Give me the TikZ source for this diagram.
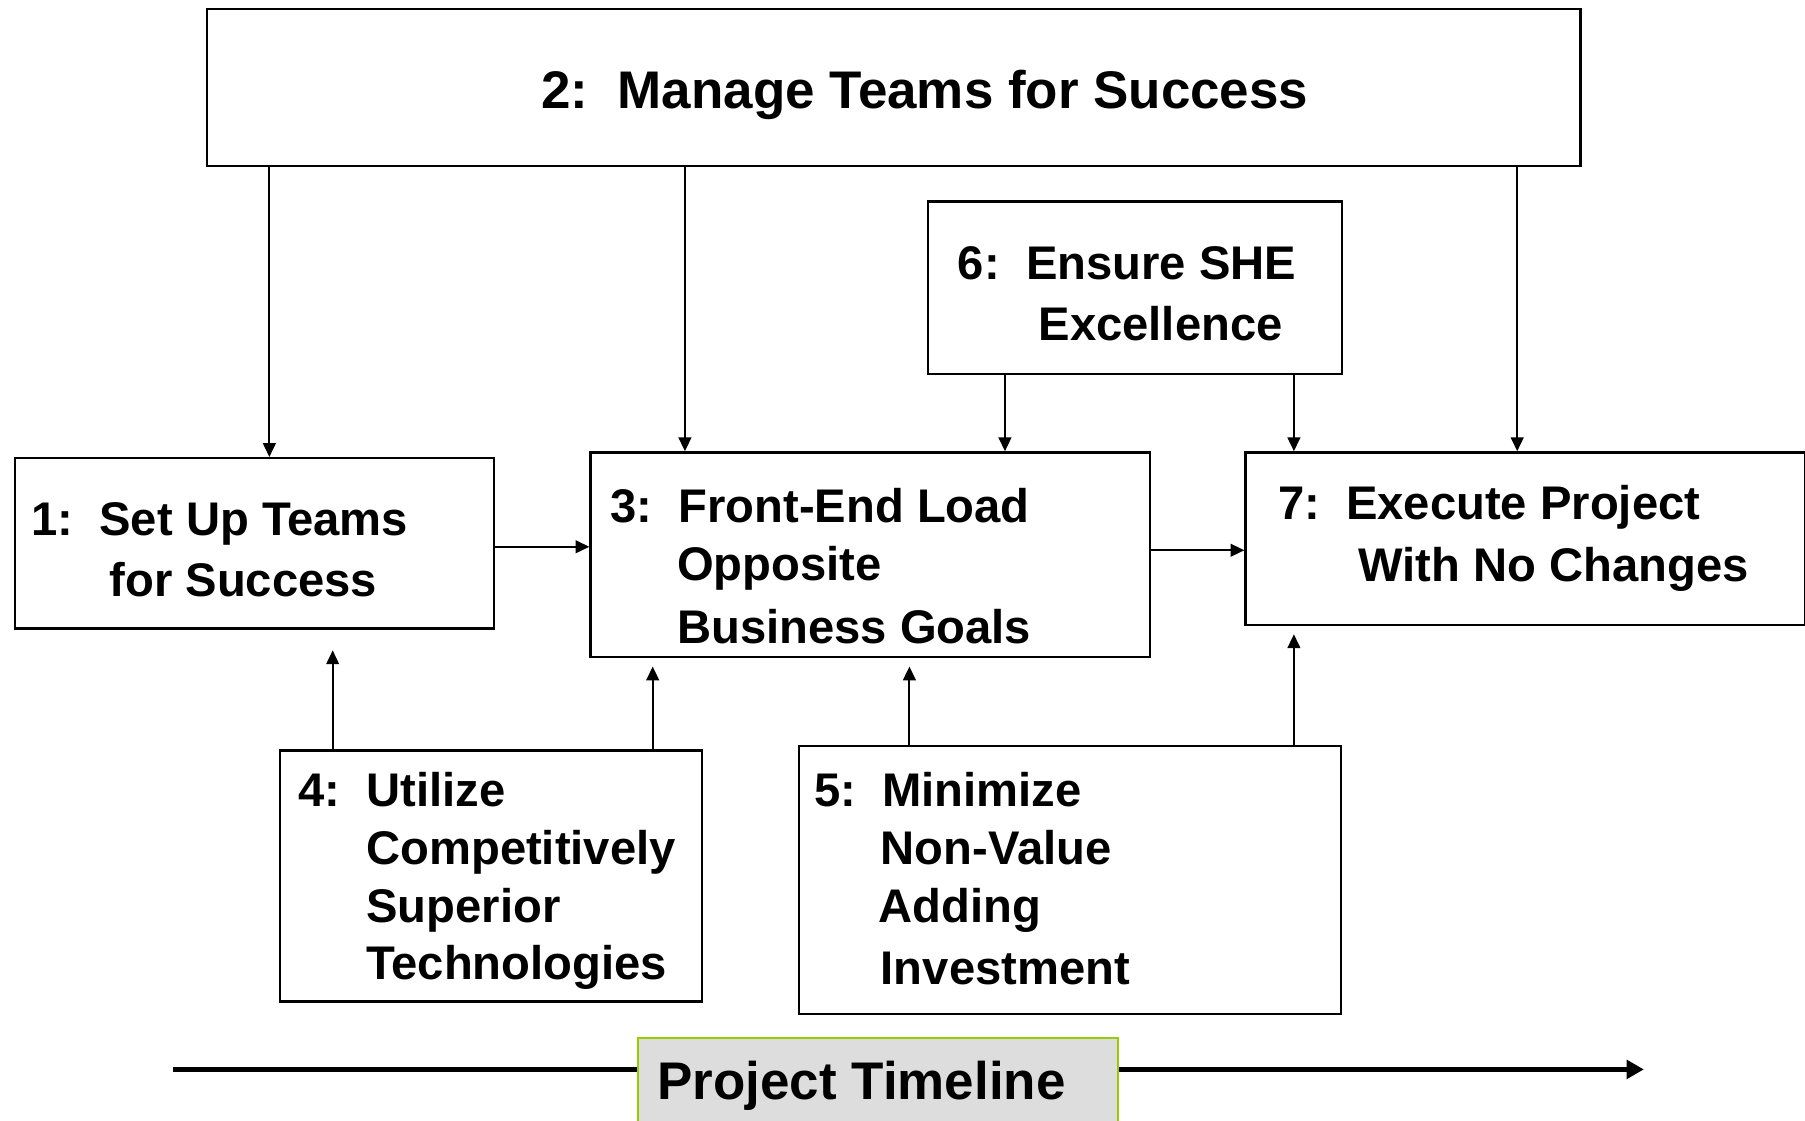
\documentclass[tikz,border=0pt]{standalone}
\usepackage{fontspec}
\setmainfont{Liberation Sans}
\usetikzlibrary{arrows.meta}
\definecolor{tlgray}{RGB}{221,221,221}
\definecolor{tlgreen}{RGB}{153,204,0}
\begin{document}
\begin{tikzpicture}[x=1pt,y=-1pt,
  box/.style={draw=black, line width=2pt, fill=white, inner sep=0pt, anchor=north west},
  tlbox/.style={draw=tlgreen, line width=2pt, fill=tlgray, inner sep=0pt, anchor=north west},
  lbl/.style={inner sep=0pt, anchor=base west, font=\fontsize{41pt}{#1pt}\selectfont\bfseries},
  lbl/.default=51,
  big/.style={inner sep=0pt, anchor=base west, font=\fontsize{46pt}{55pt}\selectfont\bfseries},
  conn/.style={line width=1.8pt, -{Triangle[length=12pt,width=11pt]}},
  timeline/.style={line width=5pt, -{Triangle[length=15pt,width=16pt]}},
]
\useasboundingbox (0,0) rectangle (1568,973);

% timeline arrow (behind the box)
\coordinate (tls) at (150,929);
\coordinate (tle) at (1428,929);
\draw[timeline] (tls) -- (tle);

% boxes
\node[box, minimum width=1193pt, minimum height=136pt] (b2) at (179,7) {};
\node[box, minimum width=360pt, minimum height=150pt] (b6) at (805,174) {};
\node[box, minimum width=416pt, minimum height=148pt] (b1) at (12,397) {};
\node[box, minimum width=486pt, minimum height=178pt] (b3) at (512,392) {};
\node[box, minimum width=486pt, minimum height=150pt] (b7) at (1081,392) {};
\node[box, minimum width=367pt, minimum height=218pt] (b4) at (242,651) {};
\node[box, minimum width=471pt, minimum height=233pt] (b5) at (693,647) {};
\node[tlbox, minimum width=417pt, minimum height=100pt] (tl) at (553,901) {};

% texts
\node[big] (t2) at (470,94) {2:\ \ Manage Teams for Success};
\node[lbl=53] (t6) at (832,243) {\begin{tabular}[t]{@{}l@{}}6:\ \ Ensure SHE\\\hspace*{70pt}Excellence\end{tabular}};
\node[lbl=53] (t1) at (27,465) {\begin{tabular}[t]{@{}l@{}}1:\ \ Set Up Teams\\\hspace*{68pt}for Success\end{tabular}};
\node[lbl=50] (t3) at (530,454) {\begin{tabular}[t]{@{}l@{}}3:\ \ Front-End Load\\\hspace*{58pt}Opposite\\[5pt]\hspace*{58pt}Business Goals\end{tabular}};
\node[lbl=54] (t7) at (1110,451) {\begin{tabular}[t]{@{}l@{}}7:\ \ Execute Project\\\hspace*{70pt}With No Changes\end{tabular}};
\node[lbl=50] (t4) at (259,701) {\begin{tabular}[t]{@{}l@{}}4:\ \ Utilize\\\hspace*{59pt}Competitively\\\hspace*{59pt}Superior\\\hspace*{59pt}Technologies\end{tabular}};
\node[lbl=50] (t5) at (707,701) {\begin{tabular}[t]{@{}l@{}}5:\ \ Minimize\\\hspace*{58pt}Non-Value\\\hspace*{56pt}Adding\\[4pt]\hspace*{58pt}Investment\end{tabular}};
\node[big] (tt) at (571,955) {Project Timeline};

% connectors from box 2
\draw[conn] (234,0 |- b2.south) -- (234,0 |- b1.north);
\draw[conn] (595,0 |- b2.south) -- (595,0 |- b3.north);
\draw[conn] (1318,0 |- b2.south) -- (1318,0 |- b7.north);
% connectors from box 6
\draw[conn] (873,0 |- b6.south) -- (873,0 |- b3.north);
\draw[conn] (1124,0 |- b6.south) -- (1124,0 |- b7.north);
% horizontal flow
\draw[conn] (b1.east |- 0,475) -- (b3.west |- 0,475);
\draw[conn] (b3.east |- 0,478) -- (b7.west |- 0,478);
% connectors from boxes 4 and 5
\draw[conn, shorten >=18pt] (289,0 |- b4.north) -- (289,0 |- b1.south);
\draw[conn, shorten >=7pt] (567,0 |- b4.north) -- (567,0 |- b3.south);
\draw[conn, shorten >=7pt] (790,0 |- b5.north) -- (790,0 |- b3.south);
\draw[conn, shorten >=7pt] (1124,0 |- b5.north) -- (1124,0 |- b7.south);
\end{tikzpicture}
\end{document}
